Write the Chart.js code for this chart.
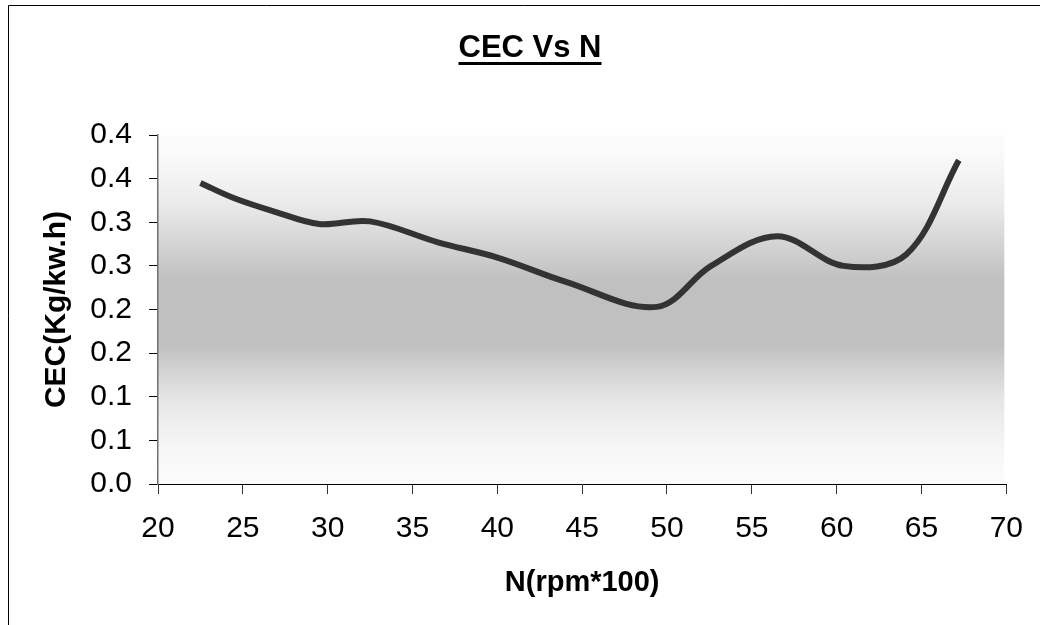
<!DOCTYPE html>
<html>
<head>
<meta charset="utf-8">
<title>CEC Vs N</title>
<script src="https://cdn.jsdelivr.net/npm/chart.js@4.4.1/dist/chart.umd.min.js"></script>
<style>
  html, body { margin: 0; padding: 0; background: #ffffff; }
  #wrap { width: 1040px; height: 625px; position: relative; }
</style>
</head>
<body>
<div id="wrap"><canvas id="chart" width="1040" height="625"></canvas></div>
<script>
// Engine speed N (rpm*100) and fuel consumption CEC (Kg/kw.h)
const speedN = [22.5, 24.5, 26.9, 29.5, 32.5, 36.5, 40.1, 44.0, 49.4, 52.6, 56.5, 60.4, 64.1, 67.2];
const cecValues = [0.345, 0.3275, 0.312, 0.298, 0.301, 0.277, 0.259, 0.232, 0.203, 0.250, 0.284, 0.250, 0.263, 0.371];

// Axis ticks (labels shown with one decimal)
const yTickValues = [0, 0.05, 0.1, 0.15, 0.2, 0.25, 0.3, 0.35, 0.4];
const yTickLabels = ['0.0', '0.1', '0.1', '0.2', '0.2', '0.3', '0.3', '0.4', '0.4'];
const xTickLabels = ['20', '25', '30', '35', '40', '45', '50', '55', '60', '65', '70'];

const chartTitle = 'CEC Vs N';
const xTitle = 'N(rpm*100)';
const yTitle = 'CEC(Kg/kw.h)';

const FONT = '"Liberation Sans", Arial, Helvetica, sans-serif';

const points = speedN.map((x, i) => ({ x: x, y: cecValues[i] }));

// Plot-area fill: light at the edges, grey band through the middle
const plotBackground = {
  id: 'plotBackground',
  beforeDraw(chart) {
    const { ctx, chartArea: a } = chart;
    const g = ctx.createLinearGradient(0, a.top, 0, a.bottom);
    const stops = [
      [0.00, '#fcfcfc'], [0.05, '#fafafa'], [0.19, '#ececec'], [0.26, '#dedede'],
      [0.36, '#cbcbcb'], [0.42, '#c0c0c0'], [0.60, '#c0c0c0'], [0.68, '#d4d4d4'],
      [0.75, '#e4e4e4'], [0.82, '#eeeeee'], [0.90, '#f6f6f6'], [1.00, '#fcfcfc']
    ];
    stops.forEach(s => g.addColorStop(s[0], s[1]));
    ctx.save();
    ctx.fillStyle = g;
    ctx.fillRect(a.left, a.top, a.right - a.left - 2, a.bottom - a.top);
    ctx.restore();
  }
};

// Outer frame lines and the underlined heading
const frameAndHeading = {
  id: 'frameAndHeading',
  afterDraw(chart) {
    const { ctx } = chart;
    ctx.save();
    ctx.strokeStyle = '#000000';
    ctx.lineWidth = 1;
    ctx.beginPath();
    ctx.moveTo(8.5, 625);
    ctx.lineTo(8.5, 5.5);
    ctx.lineTo(1040, 5.5);
    ctx.stroke();

    ctx.font = 'bold 31px ' + FONT;
    ctx.fillStyle = '#000000';
    ctx.textAlign = 'center';
    ctx.textBaseline = 'alphabetic';
    const cx = 530, base = 57;
    ctx.fillText(chartTitle, cx, base);
    const w = ctx.measureText(chartTitle).width;
    ctx.fillRect(cx - w / 2, 62, w, 3);
    ctx.restore();
  }
};

new Chart(document.getElementById('chart'), {
  type: 'scatter',
  data: {
    datasets: [{
      data: points,
      showLine: true,
      borderColor: '#333333',
      borderWidth: 6,
      borderCapStyle: 'butt',
      borderJoinStyle: 'round',
      tension: 0.35,
      pointRadius: 0,
      pointHoverRadius: 0,
      fill: false
    }]
  },
  options: {
    responsive: false,
    devicePixelRatio: 1,
    animation: false,
    layout: { padding: { top: 135, right: 32, left: 0, bottom: 0 } },
    plugins: {
      legend: { display: false },
      title: { display: false },
      tooltip: { enabled: false }
    },
    scales: {
      x: {
        type: 'linear',
        min: 20,
        max: 70,
        afterFit(scale) { scale.height = 141; },
        afterBuildTicks(scale) {
          scale.ticks = xTickLabels.map(t => ({ value: Number(t) }));
        },
        ticks: {
          color: '#000000',
          font: { family: FONT, size: 30 },
          padding: 17,
          maxRotation: 0,
          autoSkip: false,
          callback: (v, i) => xTickLabels[i]
        },
        grid: {
          drawOnChartArea: false,
          drawTicks: true,
          tickLength: 10,
          tickColor: '#333333'
        },
        border: { color: '#000000', width: 1 },
        title: {
          display: true,
          text: xTitle,
          color: '#000000',
          font: { family: FONT, size: 29, weight: 'bold' },
          padding: { top: 0, bottom: 25 }
        }
      },
      y: {
        type: 'linear',
        min: 0,
        max: 0.4,
        afterFit(scale) { scale.width = 158; },
        afterBuildTicks(scale) {
          scale.ticks = yTickValues.map(v => ({ value: v }));
        },
        ticks: {
          color: '#000000',
          font: { family: FONT, size: 30 },
          padding: 17,
          autoSkip: false,
          callback: (v, i) => yTickLabels[i]
        },
        grid: {
          drawOnChartArea: false,
          drawTicks: true,
          tickLength: 9,
          tickColor: '#000000'
        },
        border: { color: '#707070', width: 1.5 },
        title: {
          display: true,
          text: yTitle,
          color: '#000000',
          font: { family: FONT, size: 30, weight: 'bold' },
          padding: { top: 39, bottom: 0 }
        }
      }
    }
  },
  plugins: [plotBackground, frameAndHeading]
});
</script>
</body>
</html>
